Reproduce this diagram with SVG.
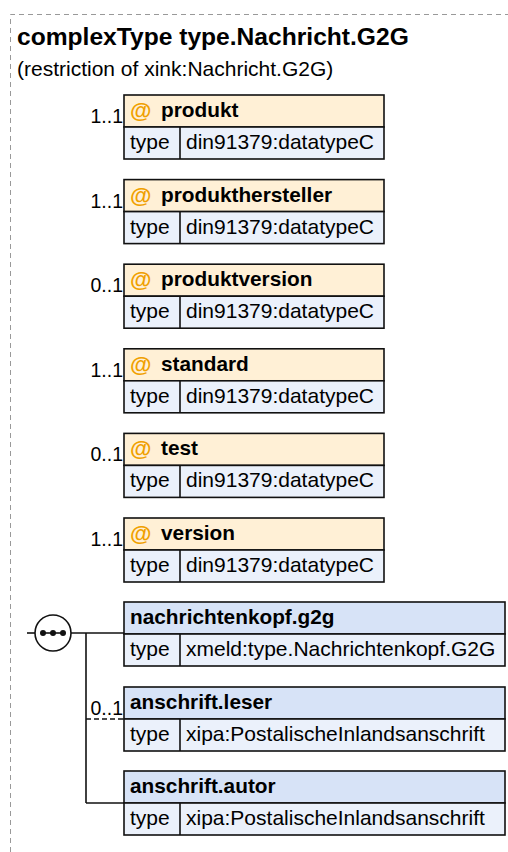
<svg xmlns="http://www.w3.org/2000/svg" width="508" height="852" viewBox="0 0 508 852">
<style>
text{font-family:"Liberation Sans",Arial,sans-serif;fill:#000}
.title{font-size:24.6px;font-weight:bold}
.sub{font-size:21px}
.nm{font-size:20.8px;font-weight:bold}
.at{font-size:22px;font-weight:bold;fill:#F0A000}
.tx{font-size:21px}
.card{font-size:19.5px;text-anchor:end}
.ah{fill:#FFF0D6;stroke:#111;stroke-width:1.6}
.eh{fill:#D7E3F7;stroke:#111;stroke-width:1.6}
.row{fill:#EBF1FB;stroke:#111;stroke-width:1.6}
.ln{stroke:#111;stroke-width:1.6;fill:none}
</style>
<path d="M10.5,852 V14.5 H508" fill="none" stroke="#999" stroke-width="1" stroke-dasharray="5,4"/>
<text class="title" x="17" y="45">complexType type.Nachricht.G2G</text>
<text class="sub" x="17" y="76">(restriction of xink:Nachricht.G2G)</text>

<g id="attr-produkt" transform="translate(124,95)">
<rect class="ah" x="0" y="0" width="260" height="32"/><rect class="row" x="0" y="32" width="260" height="32"/><line class="ln" x1="56" y1="32" x2="56" y2="64"/>
<text class="at" x="6" y="23">@</text><text class="nm" x="37" y="22">produkt</text>
<text class="tx" x="6" y="54">type</text><text class="tx" x="62" y="54">din91379:datatypeC</text>
<text class="card" x="-1" y="28">1..1</text></g>

<g id="attr-produkthersteller" transform="translate(124,179.6)">
<rect class="ah" x="0" y="0" width="260" height="32"/><rect class="row" x="0" y="32" width="260" height="32"/><line class="ln" x1="56" y1="32" x2="56" y2="64"/>
<text class="at" x="6" y="23">@</text><text class="nm" x="37" y="22">produkthersteller</text>
<text class="tx" x="6" y="54">type</text><text class="tx" x="62" y="54">din91379:datatypeC</text>
<text class="card" x="-1" y="28">1..1</text></g>

<g id="attr-produktversion" transform="translate(124,264.2)">
<rect class="ah" x="0" y="0" width="260" height="32"/><rect class="row" x="0" y="32" width="260" height="32"/><line class="ln" x1="56" y1="32" x2="56" y2="64"/>
<text class="at" x="6" y="23">@</text><text class="nm" x="37" y="22">produktversion</text>
<text class="tx" x="6" y="54">type</text><text class="tx" x="62" y="54">din91379:datatypeC</text>
<text class="card" x="-1" y="28">0..1</text></g>

<g id="attr-standard" transform="translate(124,348.8)">
<rect class="ah" x="0" y="0" width="260" height="32"/><rect class="row" x="0" y="32" width="260" height="32"/><line class="ln" x1="56" y1="32" x2="56" y2="64"/>
<text class="at" x="6" y="23">@</text><text class="nm" x="37" y="22">standard</text>
<text class="tx" x="6" y="54">type</text><text class="tx" x="62" y="54">din91379:datatypeC</text>
<text class="card" x="-1" y="28">1..1</text></g>

<g id="attr-test" transform="translate(124,433.4)">
<rect class="ah" x="0" y="0" width="260" height="32"/><rect class="row" x="0" y="32" width="260" height="32"/><line class="ln" x1="56" y1="32" x2="56" y2="64"/>
<text class="at" x="6" y="23">@</text><text class="nm" x="37" y="22">test</text>
<text class="tx" x="6" y="54">type</text><text class="tx" x="62" y="54">din91379:datatypeC</text>
<text class="card" x="-1" y="28">0..1</text></g>

<g id="attr-version" transform="translate(124,518)">
<rect class="ah" x="0" y="0" width="260" height="32"/><rect class="row" x="0" y="32" width="260" height="32"/><line class="ln" x1="56" y1="32" x2="56" y2="64"/>
<text class="at" x="6" y="23">@</text><text class="nm" x="37" y="22">version</text>
<text class="tx" x="6" y="54">type</text><text class="tx" x="62" y="54">din91379:datatypeC</text>
<text class="card" x="-1" y="28">1..1</text></g>

<g id="connectors">
<line class="ln" x1="27" y1="633" x2="35" y2="633"/>
<line class="ln" x1="71" y1="633" x2="124" y2="633"/>
<line class="ln" x1="86" y1="633" x2="86" y2="803"/>
<line class="ln" x1="86" y1="803" x2="124" y2="803"/>
<line class="ln" x1="86" y1="719" x2="124" y2="719" stroke-dasharray="5,3"/>
</g>

<g id="sequence">
<circle cx="53" cy="633" r="18" fill="#fff" stroke="#111" stroke-width="1.6"/>
<line class="ln" x1="43" y1="633" x2="63" y2="633"/>
<circle cx="43" cy="633" r="3" fill="#111"/><circle cx="53" cy="633" r="3" fill="#111"/><circle cx="63" cy="633" r="3" fill="#111"/>
</g>

<g id="el-nachrichtenkopf" transform="translate(124,602)">
<rect class="eh" x="0" y="0" width="381" height="32"/><rect class="row" x="0" y="32" width="381" height="32"/><line class="ln" x1="56" y1="32" x2="56" y2="64"/>
<text class="nm" x="6" y="22">nachrichtenkopf.g2g</text>
<text class="tx" x="6" y="54">type</text><text class="tx" x="62" y="54">xmeld:type.Nachrichtenkopf.G2G</text></g>

<g id="el-anschrift-leser" transform="translate(124,687)">
<rect class="eh" x="0" y="0" width="381" height="32"/><rect class="row" x="0" y="32" width="381" height="32"/><line class="ln" x1="56" y1="32" x2="56" y2="64"/>
<text class="nm" x="6" y="22">anschrift.leser</text>
<text class="tx" x="6" y="54">type</text><text class="tx" x="62" y="54">xipa:PostalischeInlandsanschrift</text>
<text class="card" x="-1" y="28">0..1</text></g>

<g id="el-anschrift-autor" transform="translate(124,771)">
<rect class="eh" x="0" y="0" width="381" height="32"/><rect class="row" x="0" y="32" width="381" height="32"/><line class="ln" x1="56" y1="32" x2="56" y2="64"/>
<text class="nm" x="6" y="22">anschrift.autor</text>
<text class="tx" x="6" y="54">type</text><text class="tx" x="62" y="54">xipa:PostalischeInlandsanschrift</text></g>
</svg>
